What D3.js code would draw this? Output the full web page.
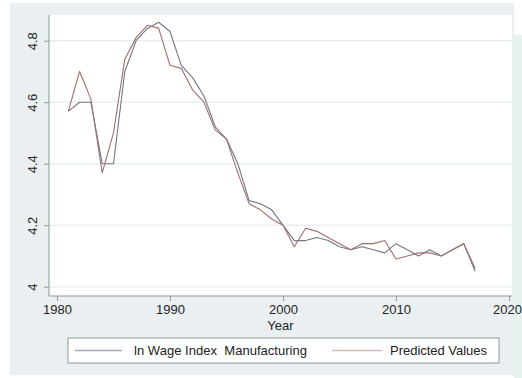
<!DOCTYPE html>
<html>
<head>
<meta charset="utf-8">
<script src="https://cdn.jsdelivr.net/npm/d3@7"></script>
<style>
  body { margin: 0; background: #fff; }
  svg { display: block; font-family: "Liberation Sans", Arial, sans-serif; }
</style>
</head>
<body>
<div id="chart"></div>
<script>
// data
var years = d3.range(1981, 2018);
var actual = [4.57, 4.60, 4.60, 4.40, 4.40, 4.70, 4.80, 4.84, 4.86, 4.83,
              4.72, 4.68, 4.62, 4.52, 4.48, 4.40, 4.28, 4.27, 4.25, 4.20,
              4.15, 4.15, 4.16, 4.15, 4.13, 4.12, 4.13, 4.12, 4.11, 4.14,
              4.12, 4.10, 4.12, 4.10, 4.12, 4.14, 4.05];
var predicted = [4.57, 4.70, 4.61, 4.37, 4.50, 4.74, 4.81, 4.85, 4.84, 4.72,
                 4.71, 4.64, 4.60, 4.51, 4.48, 4.37, 4.27, 4.25, 4.22, 4.20,
                 4.13, 4.19, 4.18, 4.16, 4.14, 4.12, 4.14, 4.14, 4.15, 4.09,
                 4.10, 4.11, 4.11, 4.10, 4.12, 4.14, 4.06];
var xTicks = [1980, 1990, 2000, 2010, 2020];
var yTicks = [4, 4.2, 4.4, 4.6, 4.8];
var seriesNames = ["ln Wage Index  Manufacturing", "Predicted Values"];
var seriesColors = ["#6f7687", "#a06f6c"];

var cfg = {
  width: 522,
  height: 378,
  font: 13,
  plot: {left: 49, right: 512, top: 15, bottom: 296}
};

var scale = {
  x: d3.scaleLinear().domain([1980, 2020]).range([57, 509]),
  y: d3.scaleLinear().domain([4, 4.8]).range([286.7, 40.7])
};

var svg = d3.select("#chart").append("svg")
  .attr("width", cfg.width)
  .attr("height", cfg.height);

// graph region
svg.append("rect")
  .attr("x", 10).attr("y", 3)
  .attr("width", 504).attr("height", 372)
  .attr("fill", "#eaf0f2");
svg.append("rect")
  .attr("x", 514).attr("y", 35)
  .attr("width", 8).attr("height", 343)
  .attr("fill", "#e6f2ee");

// plot region
svg.append("rect")
  .attr("x", cfg.plot.left).attr("y", cfg.plot.top)
  .attr("width", cfg.plot.right - cfg.plot.left)
  .attr("height", cfg.plot.bottom - cfg.plot.top)
  .attr("fill", "#fff");

// grid lines
svg.append("g").selectAll("line")
  .data(yTicks)
  .enter().append("line")
  .attr("x1", cfg.plot.left).attr("x2", cfg.plot.right)
  .attr("y1", d => scale.y(d)).attr("y2", d => scale.y(d))
  .attr("stroke", "#eaf0f2")
  .attr("stroke-width", 1.5);

// y axis
var yAxis = svg.append("g")
  .attr("transform", `translate(${cfg.plot.left},0)`)
  .call(d3.axisLeft(scale.y).tickValues(yTicks).tickSize(5).tickSizeOuter(0)
    .tickFormat(d => d3.format("")(+d.toFixed(1))));
yAxis.select(".domain").attr("d", `M0,${cfg.plot.top}V${cfg.plot.bottom}`).attr("stroke", "#8c9a9e");
yAxis.selectAll("line").attr("stroke", "#8c9a9e");
yAxis.selectAll("text")
  .attr("font-size", cfg.font)
  .attr("fill", "#222")
  .attr("x", 0).attr("dy", 0)
  .attr("transform", "translate(-12,0) rotate(-90)")
  .attr("text-anchor", "middle");

// x axis
var xAxis = svg.append("g")
  .attr("transform", `translate(0,${cfg.plot.bottom})`)
  .call(d3.axisBottom(scale.x).tickValues(xTicks).tickSize(5).tickSizeOuter(0)
    .tickFormat(d3.format("d")));
xAxis.select(".domain").attr("d", `M${cfg.plot.left},0H${cfg.plot.right}`).attr("stroke", "#8c9a9e");
xAxis.selectAll("line").attr("stroke", "#8c9a9e");
xAxis.selectAll("text")
  .attr("font-size", cfg.font)
  .attr("fill", "#222")
  .attr("y", 9)
  .attr("dx", d => d == 2020 ? -2 : 0);

svg.append("text")
  .attr("x", (cfg.plot.left + cfg.plot.right) / 2)
  .attr("y", 330)
  .attr("text-anchor", "middle")
  .attr("font-size", cfg.font)
  .attr("fill", "#222")
  .text("Year");

// lines
var line = d3.line()
  .x((d, i) => scale.x(years[i]))
  .y(d => scale.y(d));

svg.append("g").selectAll("path")
  .data([actual, predicted])
  .enter().append("path")
  .attr("d", line)
  .attr("fill", "none")
  .attr("stroke", (d, i) => seriesColors[i])
  .attr("stroke-width", 1.1)
  .attr("stroke-linejoin", "round");

// legend
var legend = svg.append("g");
legend.append("rect")
  .attr("x", 68).attr("y", 338)
  .attr("width", 431).attr("height", 25)
  .attr("fill", "#fff")
  .attr("stroke", "#8c9a9e");

var legendPos = [{x1: 75, x2: 122, tx: 134, w: 173}, {x1: 332, x2: 382, tx: 390, w: 97}];
legend.selectAll(".sample")
  .data(seriesNames)
  .enter().append("line")
  .attr("x1", (d, i) => legendPos[i].x1)
  .attr("x2", (d, i) => legendPos[i].x2)
  .attr("y1", 350.5).attr("y2", 350.5)
  .attr("stroke", (d, i) => i == 0 ? "#a3abb8" : "#d4bcb2")
  .attr("stroke-width", 1.5);
legend.selectAll(".label")
  .data(seriesNames)
  .enter().append("text")
  .attr("x", (d, i) => legendPos[i].tx)
  .attr("y", 355)
  .attr("font-size", cfg.font)
  .attr("fill", "#222")
  .attr("textLength", (d, i) => legendPos[i].w)
  .style("white-space", "pre")
  .text(d => d);
</script>
</body>
</html>
